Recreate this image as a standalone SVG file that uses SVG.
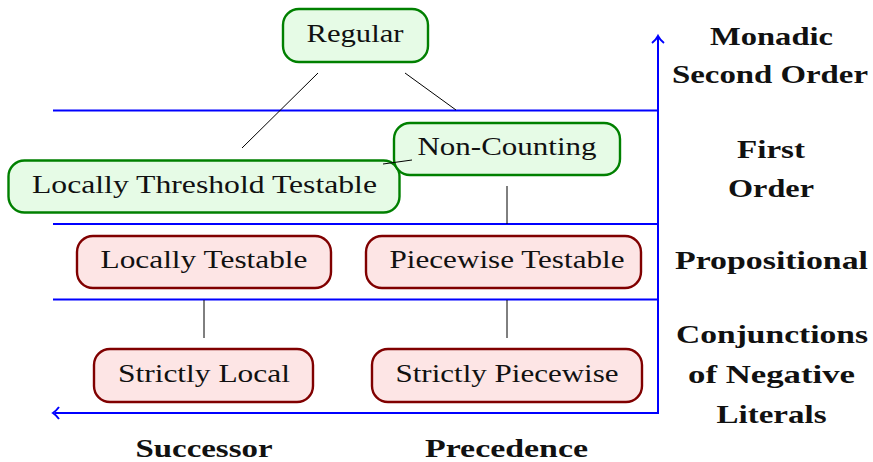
<svg xmlns="http://www.w3.org/2000/svg" width="873" height="462" viewBox="0 0 873 462">
  <style>
    .green rect { fill: #e6fbe6; stroke: #008000; stroke-width: 2.4; }
    .red rect { fill: #fde5e5; stroke: #800000; stroke-width: 2.4; }
    .node text { font-family: "Liberation Serif", "Times New Roman", "DejaVu Serif", serif; font-size: 25px; fill: #111; text-anchor: middle; }
    .axis { stroke: #0000ff; stroke-width: 2; fill: none; }
    .edge { stroke: #000; stroke-width: 1; fill: none; }
    .label { font-family: "Liberation Serif", "Times New Roman", "DejaVu Serif", serif; font-weight: bold; font-size: 25px; fill: #111; text-anchor: middle; }
  </style>

  <!-- level separators and axes -->
  <g id="axes">
    <line class="axis" x1="53" y1="110.5" x2="658" y2="110.5"/>
    <line class="axis" x1="53" y1="224" x2="658" y2="224"/>
    <line class="axis" x1="53" y1="299.5" x2="658" y2="299.5"/>
    <polyline class="axis" points="658,38 658,413 55,413"/>
    <path class="axis" d="M652,43 Q656,40 658,36 Q660,40 664,43" stroke-width="1.8"/>
    <path class="axis" d="M59,407 Q56,411 53,413 Q56,415 59,419" stroke-width="1.8"/>
  </g>

  <g id="regular" class="node green">
    <rect x="283" y="9" width="145" height="53" rx="16"/>
    <text x="355" y="42" textLength="97" lengthAdjust="spacingAndGlyphs">Regular</text>
  </g>
  <g id="locally-threshold-testable" class="node green">
    <rect x="8.5" y="160.5" width="391" height="52" rx="16"/>
    <text x="204.5" y="193" textLength="345" lengthAdjust="spacingAndGlyphs">Locally Threshold Testable</text>
  </g>
  <g id="non-counting" class="node green">
    <rect x="394" y="123" width="226" height="52" rx="16"/>
    <text x="507" y="155" textLength="179" lengthAdjust="spacingAndGlyphs">Non-Counting</text>
  </g>
  <g id="locally-testable" class="node red">
    <rect x="77" y="236" width="254" height="52" rx="16"/>
    <text x="204" y="268" textLength="207" lengthAdjust="spacingAndGlyphs">Locally Testable</text>
  </g>
  <g id="piecewise-testable" class="node red">
    <rect x="366" y="236" width="275" height="52" rx="16"/>
    <text x="507" y="268" textLength="235" lengthAdjust="spacingAndGlyphs">Piecewise Testable</text>
  </g>
  <g id="strictly-local" class="node red">
    <rect x="94" y="349" width="219" height="53" rx="16"/>
    <text x="204" y="382" textLength="172" lengthAdjust="spacingAndGlyphs">Strictly Local</text>
  </g>
  <g id="strictly-piecewise" class="node red">
    <rect x="372" y="349" width="270" height="53" rx="16"/>
    <text x="507" y="382" textLength="223" lengthAdjust="spacingAndGlyphs">Strictly Piecewise</text>
  </g>

  <!-- connectors (drawn over the nodes) -->
  <g id="connectors">
    <line class="edge" x1="318" y1="73" x2="242" y2="148"/>
    <line class="edge" x1="405" y1="73" x2="456" y2="110"/>
    <line class="edge" x1="383" y1="164" x2="412" y2="160"/>
    <line class="edge" x1="507" y1="186" x2="507" y2="224"/>
    <line class="edge" x1="204" y1="300" x2="204" y2="338"/>
    <line class="edge" x1="507" y1="300" x2="507" y2="338"/>
  </g>

  <!-- level and axis captions -->
  <g id="captions">
    <text class="label" x="771.5" y="45" textLength="123" lengthAdjust="spacingAndGlyphs">Monadic</text>
    <text class="label" x="770" y="83" textLength="196" lengthAdjust="spacingAndGlyphs">Second Order</text>
    <text class="label" x="771" y="158" textLength="68" lengthAdjust="spacingAndGlyphs">First</text>
    <text class="label" x="771" y="197" textLength="86" lengthAdjust="spacingAndGlyphs">Order</text>
    <text class="label" x="771.5" y="269" textLength="193" lengthAdjust="spacingAndGlyphs">Propositional</text>
    <text class="label" x="772" y="343" textLength="192" lengthAdjust="spacingAndGlyphs">Conjunctions</text>
    <text class="label" x="771.5" y="383" textLength="167" lengthAdjust="spacingAndGlyphs">of Negative</text>
    <text class="label" x="771.5" y="423" textLength="110" lengthAdjust="spacingAndGlyphs">Literals</text>
    <text class="label" x="204" y="457" font-size="24" textLength="137" lengthAdjust="spacingAndGlyphs">Successor</text>
    <text class="label" x="506.5" y="457" font-size="24" textLength="163" lengthAdjust="spacingAndGlyphs">Precedence</text>
  </g>
</svg>
